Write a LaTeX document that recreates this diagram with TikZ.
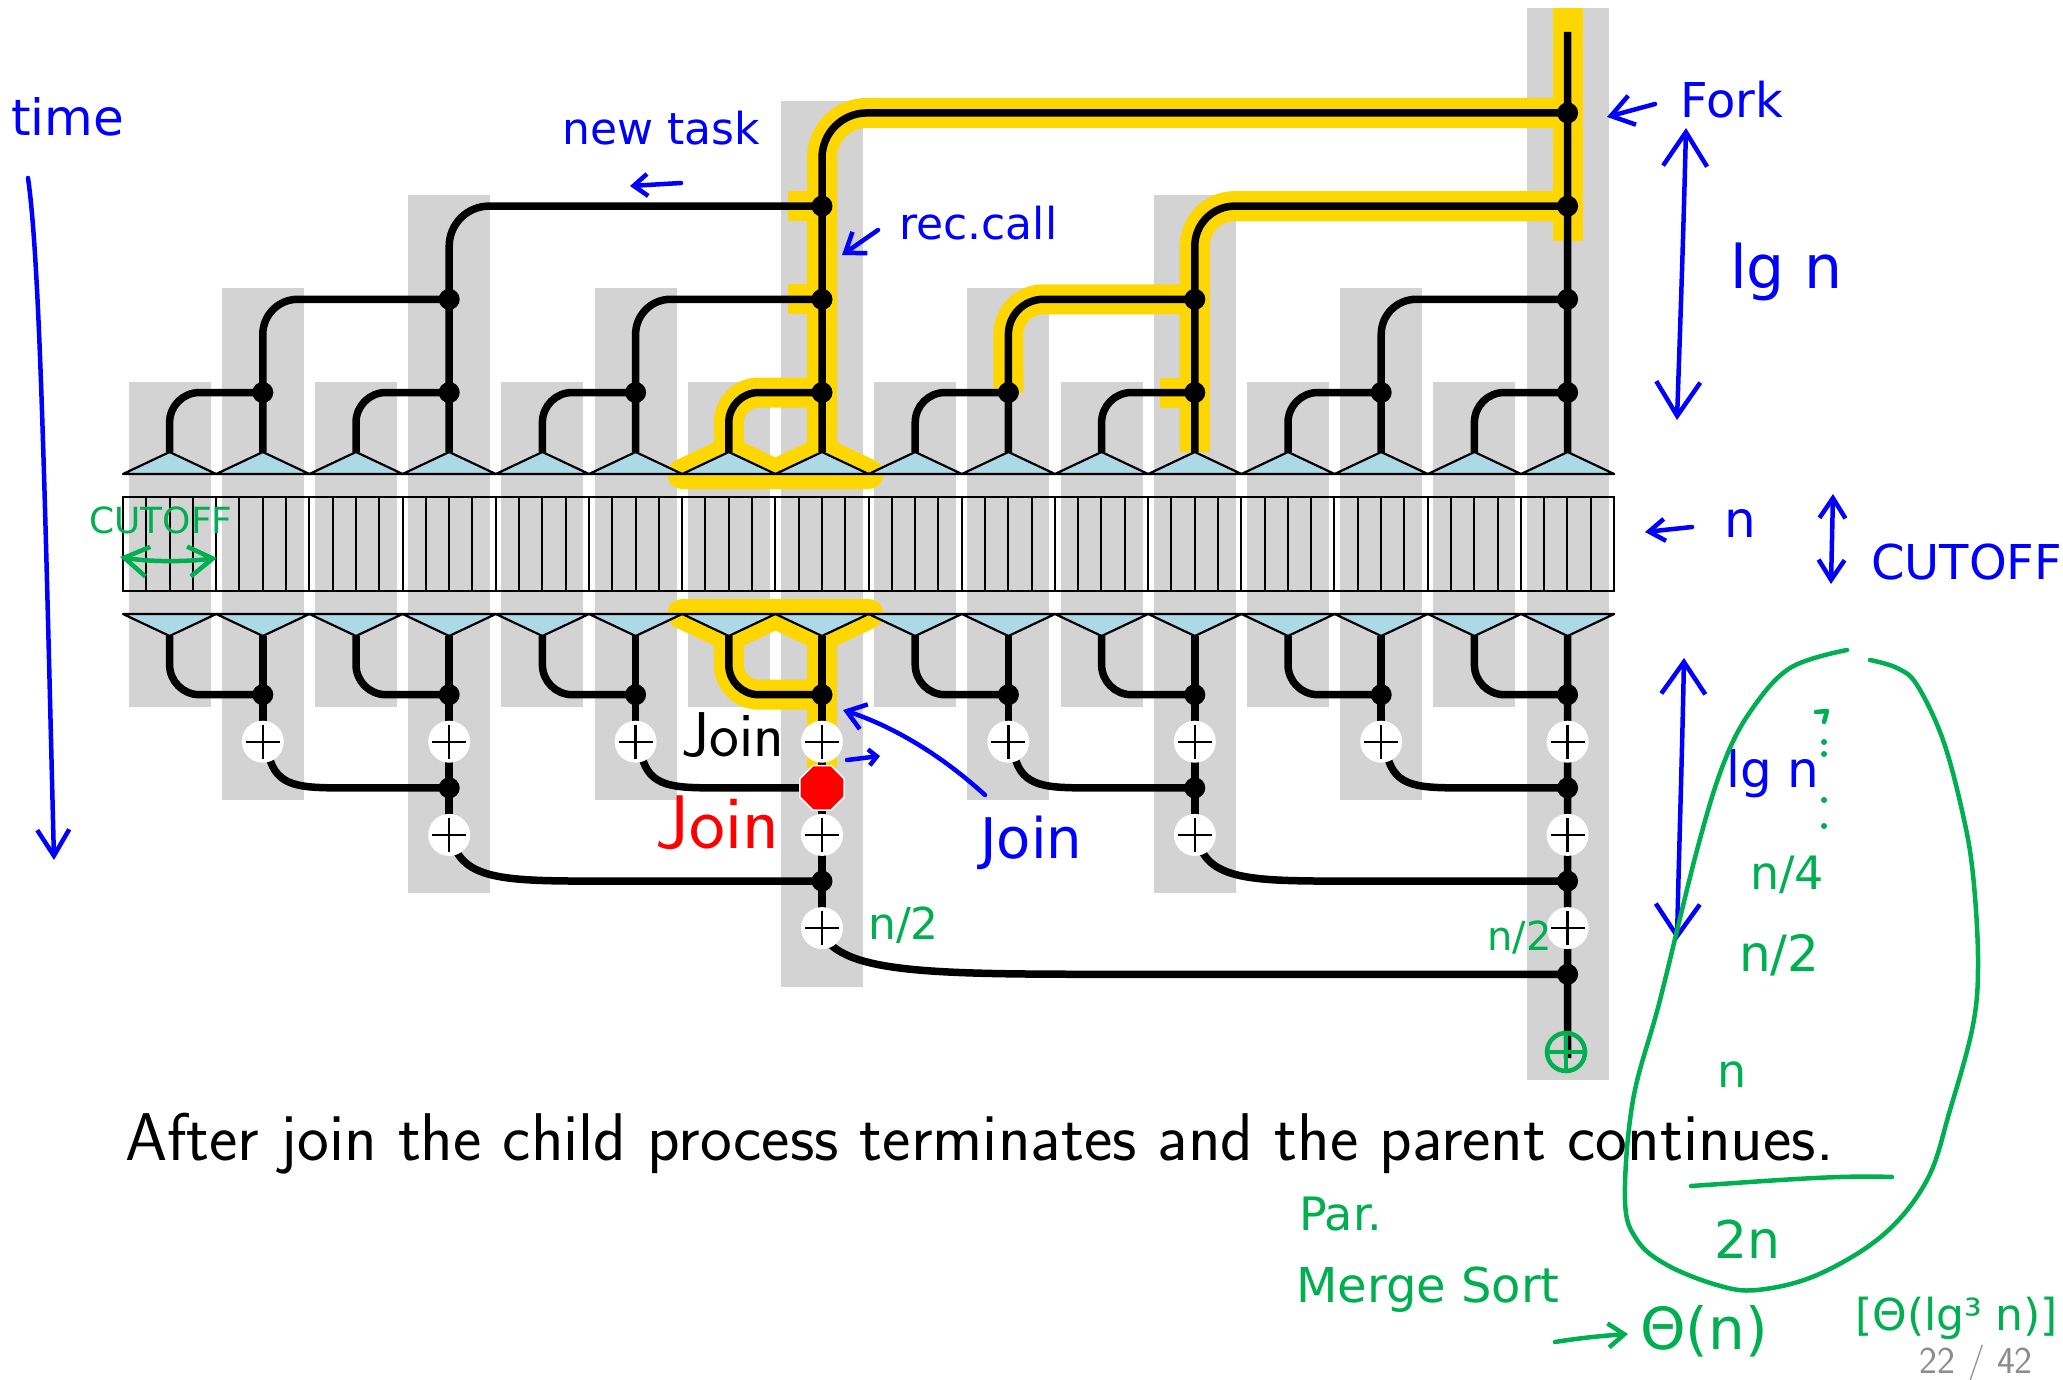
\documentclass[tikz,border=0pt]{standalone}
\usepackage{fontspec}
\newfontfamily\handfont{DejaVu Sans}
\usetikzlibrary{arrows.meta,shapes.geometric}
\definecolor{colgray}{RGB}{211,211,211}
\definecolor{tribl}{RGB}{173,216,230}
\definecolor{hlyellow}{RGB}{255,215,0}
\definecolor{penblue}{RGB}{0,0,255}
\definecolor{pengreen}{RGB}{0,176,80}
\definecolor{pagegray}{RGB}{140,140,140}
\newcommand\fsz[1]{\fontsize{#1}{#1}\selectfont}
\begin{document}
\begin{tikzpicture}[x=1pt,y=-1pt,
  thread/.style={line width=7.5pt, black},
  hl/.style={line width=30pt, hlyellow, line cap=butt, line join=round},
  dotnode/.style={circle, fill=black, inner sep=0pt, minimum size=21pt},
  plusnode/.style={circle, fill=white, inner sep=0pt, minimum size=42pt,
    path picture={\draw[line width=2.4pt]
      ([xshift=-17pt]path picture bounding box.center) -- ([xshift=17pt]path picture bounding box.center)
      ([yshift=-17pt]path picture bounding box.center) -- ([yshift=17pt]path picture bounding box.center);}},
  stopnode/.style={regular polygon, regular polygon sides=8, fill=red, draw=white,
    line width=1.5pt, inner sep=0pt, minimum size=48pt},
  tri/.style={fill=tribl, draw=black, line width=2.2pt, line join=round},
  pen/.style={line width=4.5pt, line cap=round, line join=round},
  bluepen/.style={pen, draw=penblue},
  greenpen/.style={pen, draw=pengreen},
  barb/.style 2 args={-{Straight Barb[length=#1pt,width=#2pt]}},
  dbarb/.style 2 args={{Straight Barb[length=#1pt,width=#2pt]}-{Straight Barb[length=#1pt,width=#2pt]}},
  bluenote/.style={text=penblue, inner sep=0pt, anchor=base west},
  greennote/.style={text=pengreen, inner sep=0pt, anchor=base west}]

\fill[white] (0,0) rectangle (2063,1380);
\useasboundingbox (0,0) rectangle (2063,1380);

% ---------- grey task columns (height grows with the recursion level)
\foreach \g/\L in {0/0,1/1,2/0,3/2,4/0,5/1,6/0,7/3,8/0,9/1,10/0,11/2,12/0,13/1,14/0,15/4}{
  \fill[colgray] (169.6+93.2*\g-41, 381.5-93.4*\L) rectangle (169.6+93.2*\g+41, 706.5+93.4*\L);
}

% ---------- named points: triangle tips, fork dots, join dots, additions
\foreach \g/\L in {0/0,1/1,2/0,3/2,4/0,5/1,6/0,7/3,8/0,9/1,10/0,11/2,12/0,13/1,14/0,15/4}{
  \pgfmathsetmacro\cx{169.6+93.2*\g}
  \coordinate (ta\g) at (\cx,452);
  \coordinate (ba\g) at (\cx,636);
  \ifnum\L>0
    \foreach \k in {1,...,\L}{
      \coordinate (fd\g-\k) at (\cx, 485.7-93.2*\k);
      \coordinate (jd\g-\k) at (\cx, 601.5+93.2*\k);
      \coordinate (pl\g-\k) at (\cx, 648.5+93.2*\k);
    }
  \fi
}

% ---------- highlighted (running) part of the computation
\begin{scope}[hl]
  \draw (1567.6,8) -- (1567.6,241);
  \draw[rounded corners=45pt] (ta7) |- (fd15-4);
  \draw (fd7-3) -- ++(-34,0);
  \draw (fd7-2) -- ++(-34,0);
  \draw[rounded corners=30pt] (ta6) |- (fd7-1);
  \draw (682.2,474) -- (ta6) -- (775.4,474) -- (ta7) -- (868.6,474) -- cycle;
  \draw[rounded corners=40pt] (ta11) |- (fd15-3);
  \draw (fd11-1) -- ++(-35,0);
  \draw[rounded corners=35pt] (fd9-1) |- (fd11-2);
  \draw[rounded corners=30pt] (ba6) |- (jd7-1);
  \draw (682.2,614) -- (ba6) -- (775.4,614) -- (ba7) -- (868.6,614) -- cycle;
  \draw (ba7) -- ++(0,132);
\end{scope}

% ---------- split / merge triangles
\foreach \g in {0,...,15}{
  \pgfmathsetmacro\cx{169.6+93.2*\g}
  \draw[tri] (\cx-46.6,474) -- (\cx,452) -- (\cx+46.6,474) -- cycle;
  \draw[tri] (\cx-46.6,614) -- (\cx,636) -- (\cx+46.6,614) -- cycle;
}

% ---------- the array of n elements
\draw[line width=2.2pt] (123,497) rectangle (1614,591);
\foreach \i in {1,...,63}{
  \draw[line width=2pt] (123+23.297*\i,497) -- (123+23.297*\i,591);
}

% ---------- fork tree
\foreach \g/\L/\p in {0/0/1,1/1/3,2/0/3,3/2/7,4/0/5,5/1/7,6/0/7,7/3/15,8/0/9,9/1/11,10/0/11,11/2/15,12/0/13,13/1/15,14/0/15}{
  \pgfmathtruncatemacro\kp{\L+1}
  \pgfmathsetmacro\rc{30+5*\L}
  \draw[thread, rounded corners=\rc pt] (ta\g) |- (fd\p-\kp);
}
\draw[thread] (ta15) -- (1567.6,32);

% ---------- join tree
\foreach \g/\L/\p in {0/0/1,1/1/3,2/0/3,3/2/7,4/0/5,5/1/7,6/0/7,7/3/15,8/0/9,9/1/11,10/0/11,11/2/15,12/0/13,13/1/15,14/0/15}{
  \pgfmathtruncatemacro\kp{\L+1}
  \ifnum\L=0
    \draw[thread, rounded corners=30pt] (ba\g) |- (jd\p-1);
  \else
    \draw[thread] (ba\g) -- (pl\g-\L);
    \ifcase\L\or\def\dd{80}\or\def\dd{150}\else\def\dd{300}\fi
    \pgfmathsetmacro\sx{169.6+93.2*\g+6}
    \pgfmathsetmacro\sy{648.5+93.2*\L+14}
    \pgfmathsetmacro\ty{648.5+93.2*\L+46.2}
    \draw[thread] (\sx,\sy) .. controls (\sx+0.1*\dd,\ty) and (\sx+0.4*\dd,\ty) .. (\sx+\dd,\ty) -- (jd\p-\kp);
  \fi
}
\draw[thread] (ba15) -- (1567.6,1058);

% ---------- dots and additions
\foreach \g/\L in {1/1,3/2,5/1,7/3,9/1,11/2,13/1,15/4}{
  \foreach \k in {1,...,\L}{
    \node[dotnode] (fdot\g-\k) at (fd\g-\k) {};
    \node[dotnode] (jdot\g-\k) at (jd\g-\k) {};
    \ifnum\k<4 \node[plusnode] (plus\g-\k) at (pl\g-\k) {};\fi
  }
}
\node[stopnode] (stop) at (jd7-2) {};

% ---------- printed labels
\node[anchor=base west, inner sep=0pt, font=\sffamily\fsz{63.3}] (joinlbl) at (681,756) {Join};
\node[anchor=base east, inner sep=0pt, text=red, font=\sffamily\fsz{76}] (joinred) at (779,848) {Join};
\node[anchor=base west, inner sep=0pt, font=\sffamily\fsz{67.5}] (caption) at (125,1160)
  {After join the child process terminates and the parent continues.};
\node[anchor=base east, inner sep=0pt, text=pagegray, font=\sffamily\fsz{38}] (pageno) at (2033,1373) {22 / 42};

% ---------- blue pen notes
\node[bluenote, font=\handfont\fsz{50}] (ntime) at (11,136) {time};
\draw[bluepen, barb={26}{32}] (28,178) .. controls (40,260) and (45,500) .. (54,860);
\node[bluenote, font=\handfont\fsz{44}] (nnewtask) at (562,145) {new task};
\draw[bluepen, barb={14}{22}] (681,183) -- (630,186);
\node[bluenote, font=\handfont\fsz{44}] (nrec) at (899,240) {rec.call};
\draw[bluepen, barb={18}{26}] (878,230) -- (842,255);
\node[bluenote, font=\handfont\fsz{48}] (nfork) at (1680,118) {Fork};
\draw[bluepen, barb={22}{30}] (1655,104) -- (1607,117);
\draw[bluepen, dbarb={34}{44}] (1686,128) .. controls (1683,250) and (1680,330) .. (1677,420);
\node[bluenote, font=\handfont\fsz{60}] (nlgn) at (1730,288) {lg n};
\draw[bluepen, barb={16}{22}] (1692,527) -- (1645,532);
\node[bluenote, font=\handfont\fsz{50}] (nn) at (1724,537) {n};
\draw[bluepen, dbarb={20}{26}] (1833,494) -- (1831,584);
\node[bluenote, font=\handfont\fsz{48}] (ncut) at (1871,579) {CUTOFF};
\draw[bluepen, barb={18}{26}] (985,795) .. controls (930,745) and (880,722) .. (843,710);
\draw[bluepen, barb={8}{16}] (847,760) -- (880,756);
\node[bluenote, font=\handfont\fsz{56}] (njoin) at (980,858) {Join};
\draw[bluepen, dbarb={32}{44}] (1684,658) .. controls (1682,760) and (1679,850) .. (1677,940);
\node[bluenote, font=\handfont\fsz{50}] (nlgn2) at (1726,787) {lg n};

% ---------- green pen notes
\node[greennote, font=\handfont\fsz{36}] (gcut) at (89,533) {CUTOFF};
\draw[greenpen, dbarb={24}{30}] (120,557) .. controls (150,562) and (185,562) .. (217,558);
\node[greennote, font=\handfont\fsz{44}] (ghalf1) at (868,939) {n/2};
\node[greennote, font=\handfont\fsz{40}] (ghalf2) at (1487,950) {n/2};
\draw[greenpen] (1566,1052) circle (19);
\draw[greenpen] (1547,1052) -- (1585,1052) (1566,1033) -- (1566,1071);
\draw[greenpen] plot[smooth, tension=0.6] coordinates {
  (1847,650) (1790,668) (1750,712) (1723,765) (1697,850) (1660,1000) (1633,1100)
  (1625,1200) (1637,1240) (1667,1265) (1717,1285) (1757,1290) (1817,1275) (1883,1235)
  (1927,1180) (1950,1110) (1973,1025) (1978,960) (1973,875) (1963,815) (1943,740)
  (1917,685) (1897,668) (1870,660)};
\draw[greenpen] (1816,712) -- (1827,711) -- (1824,722);
\foreach \yy in {742,754,800,826}{ \fill[pengreen] (1824,\yy) circle (3); }
\node[greennote, font=\handfont\fsz{46}] (gq) at (1750,889) {n/4};
\node[greennote, font=\handfont\fsz{50}] (gh) at (1739,971) {n/2};
\node[greennote, font=\handfont\fsz{46}] (gn) at (1717,1087) {n};
\draw[greenpen] (1691,1186) .. controls (1780,1180) and (1840,1175) .. (1892,1177);
\node[greennote, font=\handfont\fsz{52}] (g2n) at (1714,1258) {2n};
\node[greennote, font=\handfont\fsz{46}] (gpar) at (1299,1230) {Par.};
\node[greennote, font=\handfont\fsz{48}] (gms) at (1296,1302) {Merge Sort};
\draw[greenpen, barb={16}{24}] (1555,1342) .. controls (1580,1338) and (1600,1336) .. (1628,1334);
\node[greennote, font=\handfont\fsz{58}] (gtheta) at (1640,1349) {Θ(n)};
\node[greennote, font=\handfont\fsz{44}] (gpoly) at (1855,1330) {[Θ(lg³ n)]};
\end{tikzpicture}
\end{document}
